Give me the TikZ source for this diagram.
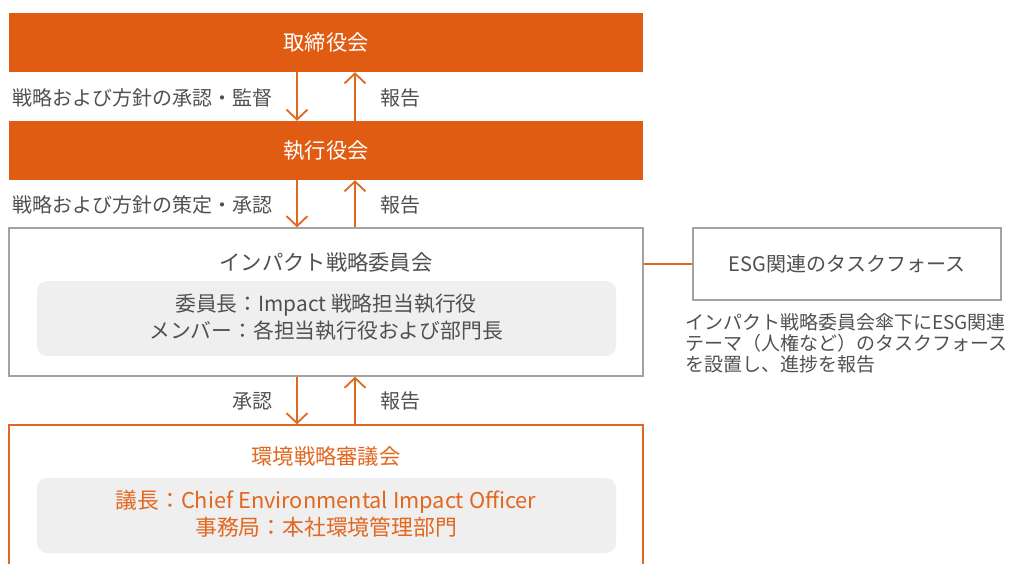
\documentclass[tikz,border=0pt]{standalone}
\usepackage{fontspec}
\setmainfont{Noto Sans CJK JP}
\usetikzlibrary{arrows.meta}
\definecolor{orgfill}{HTML}{E05C13}
\definecolor{orgline}{HTML}{E2671F}
\definecolor{txtgray}{HTML}{505050}
\definecolor{boxgray}{HTML}{A8A19B}
\definecolor{innergray}{HTML}{EFEFEF}
\tikzset{
  orangebox/.style={draw=none, fill=orgfill, text=white, minimum width=634pt, minimum height=59pt, inner sep=0pt, font=\fontsize{21.2}{24}\selectfont},
  graybox/.style={draw=boxgray, line width=1.3pt, fill=white, minimum width=634pt, minimum height=148pt, inner sep=0pt},
  orangeframe/.style={draw=orgline, line width=1.3pt, fill=white, minimum width=634pt, minimum height=170pt, inner sep=0pt},
  innerbox/.style={draw=none, fill=innergray, rounded corners=10pt, minimum width=579pt, minimum height=75pt, inner sep=0pt},
  esgbox/.style={draw=boxgray, line width=1.3pt, fill=white, minimum width=308pt, minimum height=72pt, inner sep=0pt, text=txtgray, font=\fontsize{20}{22}\selectfont},
  lbl/.style={text=txtgray, inner sep=0pt, font=\fontsize{20}{22}\selectfont},
  ttl/.style={text=txtgray, inner sep=0pt, font=\fontsize{21.3}{24}\selectfont},
  flow/.style={draw=orgline, line width=1.8pt, -{Straight Barb[length=10pt,width=21pt,line width=1.8pt]}},
  link/.style={draw=orgline, line width=1.8pt}
}
\begin{document}
\begin{tikzpicture}[x=1pt,y=-1pt]
\useasboundingbox (0,0) rectangle (1009,564);
\clip (0,0) rectangle (1009,564);
% boxes
\node[orangebox] (board) at (326,42.5) {取締役会};
\node[orangebox] (exec) at (326,150.5) {執行役会};
\node[graybox] (impact) at (326,302) {};
\node[innerbox] (impin) at (326.5,318.5) {};
\node[ttl] (imptitle) at (326,262) {インパクト戦略委員会};
\node[lbl, align=center, font=\fontsize{20.8}{27}\selectfont] (imptext) at (326,317) {委員長：Impact 戦略担当執行役\\メンバー：各担当執行役および部門長};
\node[esgbox] (esg) at (847,264) {ESG関連のタスクフォース};
\node[lbl, anchor=west, align=left, font=\fontsize{19}{21}\selectfont] (esgnote) at (685,343) {インパクト戦略委員会傘下にESG関連\\テーマ（人権など）のタスクフォース\\を設置し、進捗を報告};
\node[orangeframe] (env) at (326,510) {};
\node[innerbox] (envin) at (326.5,515.5) {};
\node[ttl, text=orgline] (envtitle) at (326,456) {環境戦略審議会};
\node[lbl, text=orgline, align=center, font=\fontsize{21.8}{27}\selectfont] (envtext) at (326,514) {議長：Chief Environmental Impact Officer\\事務局：本社環境管理部門};
% connector to ESG
\draw[link] (impact.east |- esg.west) -- (esg.west);
% arrows
\draw[flow] (board.south -| 297,0) -- (exec.north -| 297,0);
\draw[flow] (exec.north -| 355,0) -- (board.south -| 355,0);
\draw[flow] (exec.south -| 297,0) -- (impact.north -| 297,0);
\draw[flow] (impact.north -| 355,0) -- (exec.south -| 355,0);
\draw[flow] (impact.south -| 297,0) -- (env.north -| 297,0);
\draw[flow] (env.north -| 355,0) -- (impact.south -| 355,0);
% labels
\node[lbl, anchor=east] (l1) at (273,98) {戦略および方針の承認・監督};
\node[lbl, anchor=west] (r1) at (380,98) {報告};
\node[lbl, anchor=east] (l2) at (273,205) {戦略および方針の策定・承認};
\node[lbl, anchor=west] (r2) at (380,205) {報告};
\node[lbl, anchor=east] (l3) at (273,401) {承認};
\node[lbl, anchor=west] (r3) at (380,401) {報告};
\end{tikzpicture}
\end{document}
